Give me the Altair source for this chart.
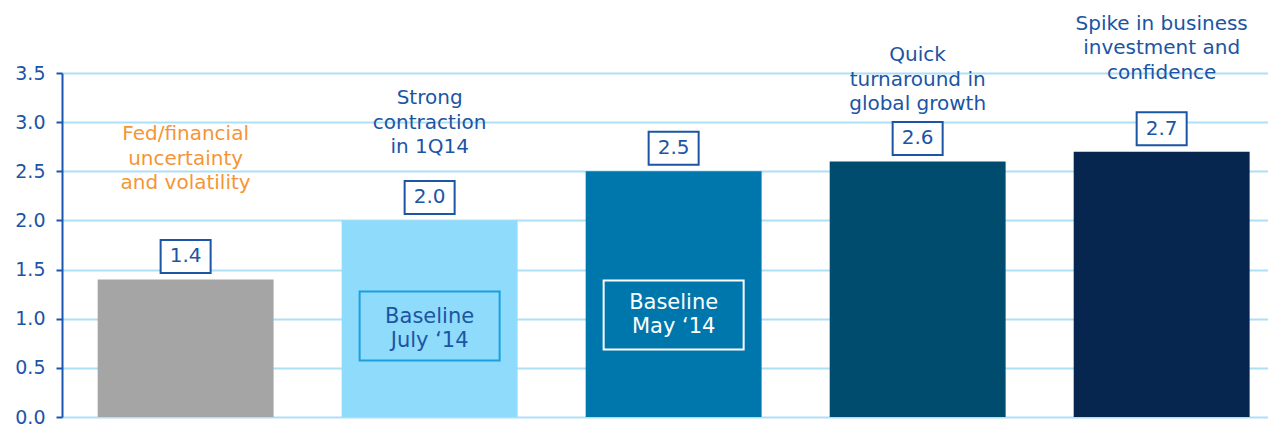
import altair as alt
import pandas as pd

categories = ["Fed/financial", "Strong contraction", "Baseline May", "Global growth", "Business investment"]
values = [1.4, 2.0, 2.5, 2.6, 2.7]
value_labels = ["1.4", "2.0", "2.5", "2.6", "2.7"]
bar_colors = ["#A5A5A5", "#8FDBFB", "#0077AC", "#004C6F", "#06264F"]
annotations = [
    "Fed/financial\nuncertainty\nand volatility",
    "Strong\ncontraction\nin 1Q14",
    "",
    "Quick\nturnaround in\nglobal growth",
    "Spike in business\ninvestment and\nconfidence",
]
annotation_colors = ["#F59535", "#1B55A3", "#1B55A3", "#1B55A3", "#1B55A3"]
baseline_labels = ["", "Baseline\nJuly \u201814", "Baseline\nMay \u201814", "", ""]
y_ticks = [0.0, 0.5, 1.0, 1.5, 2.0, 2.5, 3.0, 3.5]

# style constants: pixel offset of the annotation's first-line baseline above bar top
LH = 24.5
ann_dy = [-90 - 2 * LH, -67 - 2 * LH, 0, -51 - 2 * LH, -73 - 2 * LH]
# (box stroke, text colour, box centre offset above zero, first text baseline offset above zero)
box_style = {1: ("#1AA0DE", "#1B55A3", -91, -94), 2: ("white", "white", -102, -108)}

BLUE = "#1B55A3"
FONT = "DejaVu Sans"

df = pd.DataFrame({
    "cat": categories,
    "value": values,
    "label": value_labels,
    "ann": annotations,
    "base": baseline_labels,
})

x = alt.X("cat:N", sort=categories,
          scale=alt.Scale(domain=categories, paddingInner=0.279, paddingOuter=0.1107, align=0.66),
          axis=None)
y = alt.Y("value:Q",
          scale=alt.Scale(domain=[0, 3.5], nice=False, zero=True),
          axis=alt.Axis(values=y_ticks, format=".1f", title=None,
                        grid=True, gridColor="#ADDFF6", gridWidth=2,
                        domainColor="#1A56B0", domainWidth=2,
                        tickColor="#1A56B0", tickWidth=2, tickSize=6,
                        labelFont=FONT, labelFontSize=19, labelColor=BLUE,
                        labelPadding=11))

base = alt.Chart(df)

bars = base.mark_bar().encode(
    x=x, y=y,
    color=alt.Color("cat:N", scale=alt.Scale(domain=categories, range=bar_colors), legend=None),
)

boxes = base.mark_point(shape="M-1,-0.66H1V0.66H-1Z", size=2500, filled=True,
                        fill="white", stroke=BLUE, strokeWidth=2, opacity=1,
                        yOffset=-23).encode(x=x, y="value:Q")

vals = base.mark_text(yOffset=-23, baseline="middle", align="center", fontSize=20,
                      font=FONT, color=BLUE).encode(x=x, y="value:Q", text="label:N")

layers = [bars, boxes, vals]

for i, cat in enumerate(categories):
    if annotations[i]:
        layers.append(
            base.transform_filter(alt.datum.cat == cat).mark_text(
                baseline="alphabetic", align="center", fontSize=20, font=FONT,
                lineHeight=LH, color=annotation_colors[i], dy=ann_dy[i],
                lineBreak="\n",
            ).encode(x=x, y="value:Q", text="ann:N")
        )

for i, (stroke, tcolor, off, toff) in box_style.items():
    cat = categories[i]
    sub = base.transform_filter(alt.datum.cat == cat)
    layers.append(
        sub.mark_point(shape="M-1,-0.493H1V0.493H-1Z", size=19600, filled=False,
                       stroke=stroke, strokeWidth=2, opacity=1, yOffset=off).encode(
            x=x, y=alt.datum(0))
    )
    layers.append(
        sub.mark_text(baseline="alphabetic", align="center", fontSize=21, font=FONT,
                      lineHeight=24, color=tcolor, yOffset=toff, lineBreak="\n").encode(
            x=x, y=alt.datum(0), text="base:N")
    )

chart = alt.layer(*layers).properties(
    width=1206, height=344,
    padding={"left": 54, "top": 65, "right": 0, "bottom": 10},
    autosize=alt.AutoSizeParams(type="none"),
    background="white",
).configure_view(stroke=None)

chart.save("out.html", embed_options={"renderer": "svg", "actions": False})
